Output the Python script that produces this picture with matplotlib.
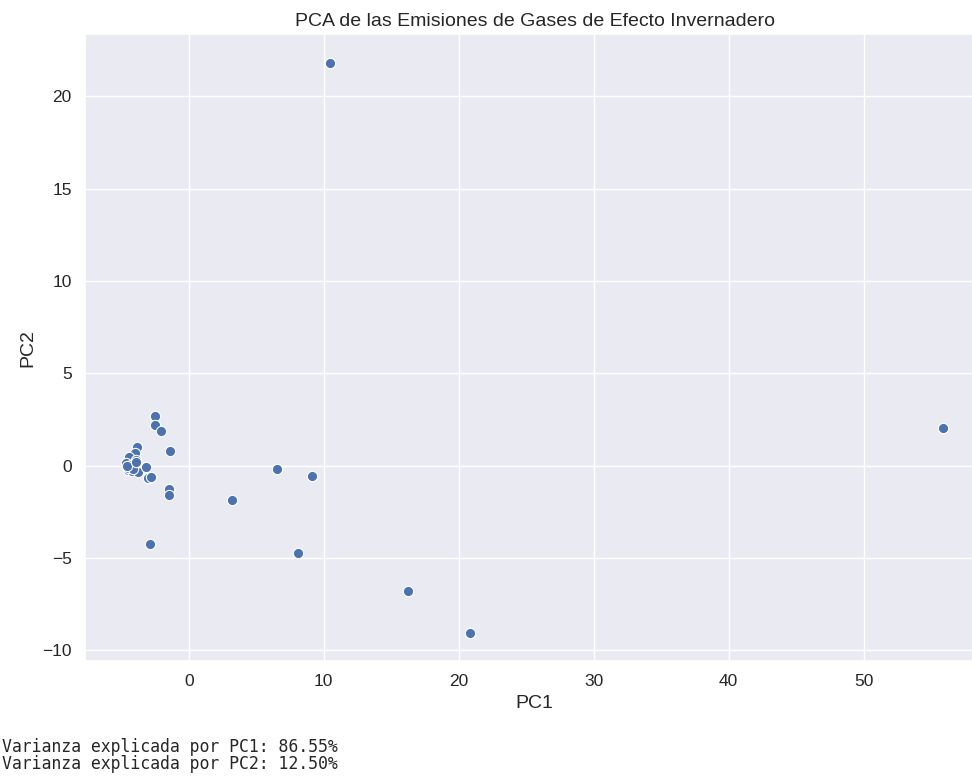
import numpy as np
import matplotlib.pyplot as plt
import seaborn as sns

# componentes principales
pc1 = [10.45, 55.90, 6.51, 9.10, 3.23, 8.06, 16.27, 20.87, -2.88,
       -2.51, -2.51, -2.07, -1.40, -1.48, -1.48,
       -3.87, -3.97, -4.44, -4.66, -4.04, -4.53, -4.22, -3.80, -3.18,
       -3.05, -2.81, -4.30, -4.50, -4.10, -3.90, -4.60, -3.95]
pc2 = [21.82, 2.07, -0.15, -0.55, -1.85, -4.73, -6.79, -9.03, -4.26,
       2.72, 2.23, 1.90, 0.82, -1.27, -1.59,
       1.00, 0.69, 0.47, 0.13, 0.16, -0.22, -0.31, -0.36, -0.07,
       -0.69, -0.60, 0.05, -0.10, -0.20, 0.30, 0.00, 0.20]
var_pc1 = 86.55
var_pc2 = 12.50

sns.set_theme()
plt.rcParams['font.family'] = ['Liberation Sans', 'DejaVu Sans']

fig = plt.figure(figsize=(9.72, 7.82), dpi=100)
# el eje sigue un poco mas alla del borde derecho (imagen recortada)
ax = fig.add_axes([0.0875, 0.1547, 0.925, 0.8015])
sns.scatterplot(x=pc1, y=pc2, ax=ax, s=55, color='#4c72b0', edgecolor='white', linewidth=0.8)
ax.set_title('PCA de las Emisiones de Gases de Efecto Invernadero', fontsize=14, x=0.5)
ax.set_xlabel('PC1', fontsize=14)
ax.set_ylabel('PC2', fontsize=14)
ax.tick_params(labelsize=12.5)

fig.text(0.002, 0.034, f'Varianza explicada por PC1: {var_pc1:.2f}%\nVarianza explicada por PC2: {var_pc2:.2f}%',
         family='DejaVu Sans Mono', fontsize=11.9, va='center', linespacing=0.95)

fig.savefig('out.png', dpi=100)
